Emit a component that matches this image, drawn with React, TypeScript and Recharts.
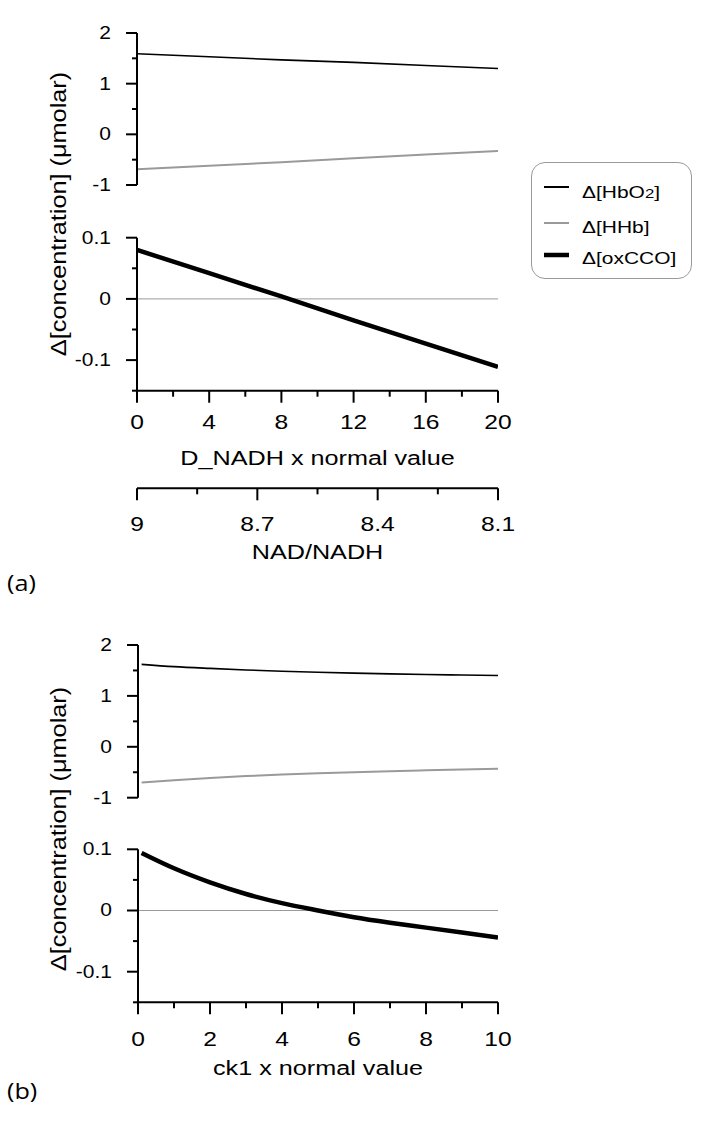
import React from 'react';
import { LineChart, Line, XAxis, YAxis, ReferenceLine, Label, Legend } from 'recharts';

// ---------------- data ----------------
// Panel (a): D_NADH x normal value, with the NAD/NADH ratio
const nadhFactor = [0, 4, 8, 12, 16, 20];
const nadRatio = [9, 8.82, 8.64, 8.46, 8.28, 8.1];
const hbo2A = [1.59, 1.53, 1.47, 1.42, 1.36, 1.3];
const hhbA = [-0.69, -0.62, -0.55, -0.47, -0.4, -0.33];
const oxccoA = [0.08, 0.042, 0.004, -0.035, -0.073, -0.111];

// Panel (b): ck1 x normal value
const ck1Factor = [0.1, 1, 2, 3, 4, 5, 6, 7, 8, 9, 10];
const hbo2B = [1.62, 1.575, 1.54, 1.51, 1.485, 1.465, 1.448, 1.433, 1.42, 1.41, 1.4];
const hhbB = [-0.7, -0.655, -0.612, -0.575, -0.545, -0.52, -0.498, -0.478, -0.461, -0.445, -0.43];
const oxccoB = [0.094, 0.069, 0.046, 0.027, 0.012, 0.0, -0.011, -0.02, -0.028, -0.036, -0.044];

// ticks
const hbTicks = [-1, -0.5, 0, 0.5, 1, 1.5, 2];
const hbMajor = [-1, 0, 1, 2];
const hbLabels = ['-1', '0', '1', '2'];
const ccoTicks = [-0.15, -0.1, -0.05, 0, 0.05, 0.1];
const ccoMajor = [-0.1, 0, 0.1];
const ccoLabels = ['-0.1', '0', '0.1'];
const nadhTicks = [0, 2, 4, 6, 8, 10, 12, 14, 16, 18, 20];
const nadhMajor = [0, 4, 8, 12, 16, 20];
const nadhLabels = ['0', '4', '8', '12', '16', '20'];
const nadTicks = [9, 8.85, 8.7, 8.55, 8.4, 8.25, 8.1];
const nadMajor = [9, 8.7, 8.4, 8.1];
const nadLabels = ['9', '8.7', '8.4', '8.1'];
const ck1Ticks = [0, 1, 2, 3, 4, 5, 6, 7, 8, 9, 10];
const ck1Major = [0, 2, 4, 6, 8, 10];
const ck1Labels = ['0', '2', '4', '6', '8', '10'];

// texts
const seriesNames = ['Δ[HbO2]', 'Δ[HHb]', 'Δ[oxCCO]'];
const yTitle = 'Δ[concentration] (μmolar)';
const xTitleA = 'D_NADH x normal value';
const xTitleA2 = 'NAD/NADH';
const xTitleB = 'ck1 x normal value';
const panelTags = ['(a)', '(b)'];

// ---------------- tables ----------------
const dataA = nadhFactor.map((x, i) => ({ x, nad: nadRatio[i], hbo2: hbo2A[i], hhb: hhbA[i], oxcco: oxccoA[i] }));
const dataB = ck1Factor.map((x, i) => ({ x, hbo2: hbo2B[i], hhb: hhbB[i], oxcco: oxccoB[i] }));

// ---------------- styles ----------------
const W = 712;
const H = 1131;
const SANS = '"Liberation Sans", Arial, Helvetica, sans-serif';
const SX = 1.2;
const GREY = '#9a9a9a';
const seriesColors = ['#000000', GREY, '#000000'];
const seriesWidths = [1.6, 2, 4.5];
const legendWidths = [2, 2, 4.5];

const findIdx = (arr: number[], v: number) => arr.findIndex((m) => Math.abs(m - v) < 1e-9);

function YTick(props: any) {
  const { x, y, payload, majors, labels } = props;
  const i = findIdx(majors, payload.value);
  const major = i >= 0;
  return (
    <g>
      <line x1={x} y1={y} x2={x - (major ? 11 : 5)} y2={y} stroke="#000" strokeWidth={2} />
      {major && (
        <text
          transform={`translate(${x - 26},${y}) scale(${SX},1)`}
          textAnchor="end"
          dominantBaseline="central"
          fontFamily={SANS}
          fontSize={17.5}
          fill="#000"
        >
          {labels[i]}
        </text>
      )}
    </g>
  );
}

function XTick(props: any) {
  const { x, y, payload, majors, labels, dy } = props;
  const i = findIdx(majors, payload.value);
  const major = i >= 0;
  return (
    <g>
      <line x1={x} y1={y} x2={x} y2={y + (major ? 12 : 6)} stroke="#000" strokeWidth={2} />
      {major && (
        <text
          transform={`translate(${x},${y + dy}) scale(${SX},1)`}
          textAnchor="middle"
          dominantBaseline="central"
          fontFamily={SANS}
          fontSize={20.5}
          fill="#000"
        >
          {labels[i]}
        </text>
      )}
    </g>
  );
}

function absText(text: string, x: number, y: number, size: number, anchor = 'middle', family = SANS) {
  return () => (
    <text
      transform={`translate(${x},${y}) scale(${SX},1)`}
      textAnchor={anchor}
      dominantBaseline="central"
      fontFamily={family}
      fontSize={size}
      fill="#000"
    >
      {text}
    </text>
  );
}

function yTitleText(x: number, y: number) {
  return () => (
    <text
      transform={`translate(${x},${y}) rotate(-90) scale(1.15,1)`}
      textAnchor="middle"
      dominantBaseline="central"
      fontFamily={SANS}
      fontSize={22}
      fill="#000"
    >
      {yTitle}
    </text>
  );
}

function renderName(n: string) {
  const m = n.match(/^(.*?)(\d)(\]?)$/);
  if (!m) return n;
  return (
    <>
      {m[1]}
      <span style={{ fontSize: '0.8em' }}>{m[2]}</span>
      {m[3]}
    </>
  );
}

const legendLineY = [24, 59.7, 92.3];
const legendTextY = [28.7, 63.8, 94.7];

function LegendBox() {
  return (
    <div
      style={{
        width: 161,
        height: 117,
        boxSizing: 'border-box',
        border: `1px solid ${GREY}`,
        borderRadius: 14,
        position: 'relative',
        background: 'transparent',
      }}
    >
      {seriesNames.map((n, i) => (
        <React.Fragment key={n}>
          <svg width={40} height={10} style={{ position: 'absolute', left: 0, top: legendLineY[i] - 5 }}>
            <line x1={12} x2={37} y1={5} y2={5} stroke={seriesColors[i]} strokeWidth={legendWidths[i]} />
          </svg>
          <span
            style={{
              position: 'absolute',
              left: 50,
              top: legendTextY[i] - 10,
              height: 20,
              lineHeight: '20px',
              fontSize: 16.5,
              fontFamily: SANS,
              whiteSpace: 'nowrap',
              transform: 'scaleX(1.27)',
              transformOrigin: 'left center',
              color: '#000',
            }}
          >
            {renderName(n)}
          </span>
        </React.Fragment>
      ))}
    </div>
  );
}

const abs: React.CSSProperties = { position: 'absolute', left: 0, top: 0 };
const axisLine = { stroke: '#000', strokeWidth: 2 };

export default function App() {
  return (
    <div style={{ position: 'absolute', left: 0, top: 0, width: W, height: H, background: '#fff' }}>
      {/* (a) upper */}
      <div style={abs}>
        <LineChart width={W} height={H} data={dataA} margin={{ top: 33, right: 214, bottom: 946, left: 77 }}>
          <XAxis type="number" dataKey="x" domain={[0, 20]} hide />
          <YAxis
            type="number"
            width={60}
            domain={[-1, 2]}
            allowDataOverflow
            ticks={hbTicks}
            interval={0}
            tickLine={false}
            tickSize={0}
            tickMargin={0}
            axisLine={axisLine}
            tick={<YTick majors={hbMajor} labels={hbLabels} />}
          />
          <Line dataKey="hbo2" name={seriesNames[0]} stroke={seriesColors[0]} strokeWidth={seriesWidths[0]} dot={false} isAnimationActive={false} />
          <Line dataKey="hhb" name={seriesNames[1]} stroke={seriesColors[1]} strokeWidth={seriesWidths[1]} dot={false} isAnimationActive={false} />
        </LineChart>
      </div>
      {/* (a) lower */}
      <div style={abs}>
        <LineChart width={W} height={H} data={dataA} margin={{ top: 237.7, right: 214, bottom: 562.7, left: 77 }}>
          <XAxis
            type="number"
            dataKey="x"
            domain={[0, 20]}
            allowDataOverflow
            ticks={nadhTicks}
            interval={0}
            height={97.6}
            tickLine={false}
            tickSize={0}
            tickMargin={0}
            axisLine={axisLine}
            tick={<XTick majors={nadhMajor} labels={nadhLabels} dy={31.8} />}
          >
            <Label content={absText(xTitleA, 317.5, 458, 21)} />
            <Label content={absText(xTitleA2, 317.5, 551.7, 21)} />
            <Label content={absText(panelTags[0], 7, 583, 21, 'start', '"Open Sans", sans-serif')} />
          </XAxis>
          <XAxis
            xAxisId="nad"
            type="number"
            dataKey="nad"
            domain={[8.1, 9]}
            reversed
            allowDataOverflow
            ticks={nadTicks}
            interval={0}
            height={80}
            tickLine={false}
            tickSize={0}
            tickMargin={0}
            axisLine={axisLine}
            tick={<XTick majors={nadMajor} labels={nadLabels} dy={35.7} />}
          />
          <YAxis
            type="number"
            width={60}
            domain={[-0.15, 0.1]}
            allowDataOverflow
            ticks={ccoTicks}
            interval={0}
            tickLine={false}
            tickSize={0}
            tickMargin={0}
            axisLine={axisLine}
            tick={<YTick majors={ccoMajor} labels={ccoLabels} />}
          >
            <Label content={yTitleText(59, 214)} />
          </YAxis>
          <ReferenceLine y={0} stroke={GREY} strokeWidth={1} />
          <Line
            xAxisId="nad"
            dataKey="oxcco"
            stroke="none"
            legendType="none"
            dot={false}
            activeDot={false}
            isAnimationActive={false}
          />
          <Line dataKey="oxcco" name={seriesNames[2]} stroke={seriesColors[2]} strokeWidth={seriesWidths[2]} dot={false} isAnimationActive={false} />
        </LineChart>
      </div>
      {/* (b) upper */}
      <div style={abs}>
        <LineChart width={W} height={H} data={dataB} margin={{ top: 645, right: 214, bottom: 333.3, left: 78 }}>
          <XAxis type="number" dataKey="x" domain={[0, 10]} hide />
          <YAxis
            type="number"
            width={60}
            domain={[-1, 2]}
            allowDataOverflow
            ticks={hbTicks}
            interval={0}
            tickLine={false}
            tickSize={0}
            tickMargin={0}
            axisLine={axisLine}
            tick={<YTick majors={hbMajor} labels={hbLabels} />}
          />
          <Line type="monotone" dataKey="hbo2" name={seriesNames[0]} stroke={seriesColors[0]} strokeWidth={seriesWidths[0]} dot={false} isAnimationActive={false} />
          <Line type="monotone" dataKey="hhb" name={seriesNames[1]} stroke={seriesColors[1]} strokeWidth={seriesWidths[1]} dot={false} isAnimationActive={false} />
        </LineChart>
      </div>
      {/* (b) lower */}
      <div style={abs}>
        <LineChart width={W} height={H} data={dataB} margin={{ top: 849.3, right: 214, bottom: 28.7, left: 78 }}>
          <XAxis
            type="number"
            dataKey="x"
            domain={[0, 10]}
            allowDataOverflow
            ticks={ck1Ticks}
            interval={0}
            height={100}
            tickLine={false}
            tickSize={0}
            tickMargin={0}
            axisLine={axisLine}
            tick={<XTick majors={ck1Major} labels={ck1Labels} dy={36.7} />}
          >
            <Label content={absText(xTitleB, 318, 1068, 21)} />
            <Label content={absText(panelTags[1], 7, 1091, 21, 'start', '"Open Sans", sans-serif')} />
          </XAxis>
          <YAxis
            type="number"
            width={60}
            domain={[-0.15, 0.1]}
            allowDataOverflow
            ticks={ccoTicks}
            interval={0}
            tickLine={false}
            tickSize={0}
            tickMargin={0}
            axisLine={axisLine}
            tick={<YTick majors={ccoMajor} labels={ccoLabels} />}
          >
            <Label content={yTitleText(59, 829)} />
          </YAxis>
          <ReferenceLine y={0} stroke={GREY} strokeWidth={1} />
          <Line type="monotone" dataKey="oxcco" name={seriesNames[2]} stroke={seriesColors[2]} strokeWidth={seriesWidths[2]} dot={false} isAnimationActive={false} />
        </LineChart>
      </div>
      {/* legend */}
      <div style={{ position: 'absolute', left: 531, top: 162 }}>
        <LineChart width={161} height={117} data={dataA} margin={{ top: 0, right: 0, bottom: 0, left: 0 }}>
          <XAxis type="number" dataKey="x" hide />
          <YAxis hide />
          <Line dataKey="hbo2" name={seriesNames[0]} stroke="none" dot={false} isAnimationActive={false} />
          <Line dataKey="hhb" name={seriesNames[1]} stroke="none" dot={false} isAnimationActive={false} />
          <Line dataKey="oxcco" name={seriesNames[2]} stroke="none" dot={false} isAnimationActive={false} />
          <Legend
            content={<LegendBox />}
            wrapperStyle={{ left: 0, top: 0, width: 161, height: 117, margin: 0, padding: 0 }}
          />
        </LineChart>
      </div>
    </div>
  );
}
